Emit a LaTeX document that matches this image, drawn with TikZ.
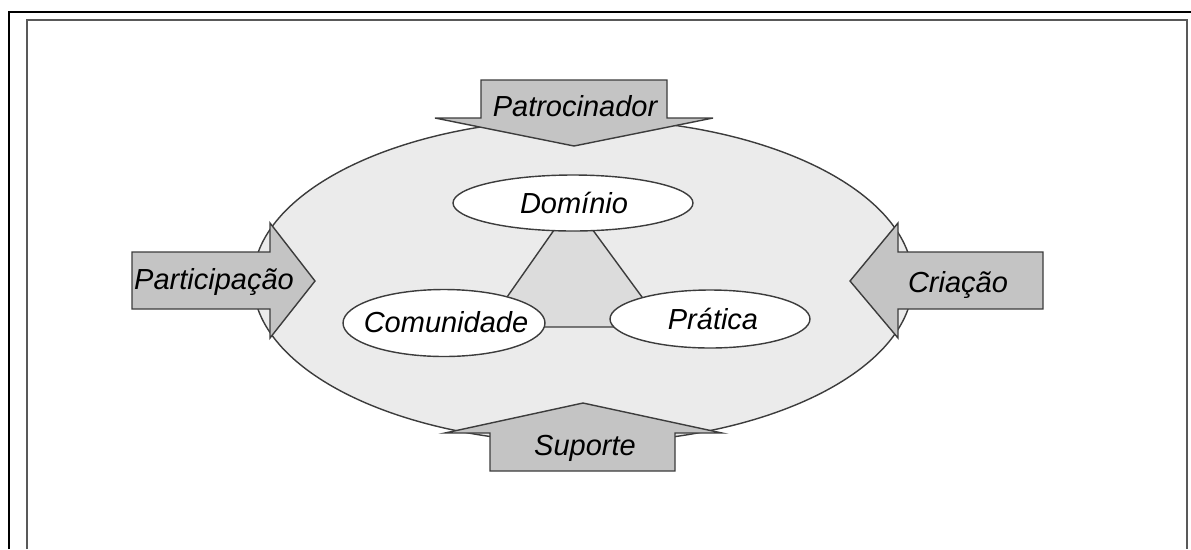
\documentclass[tikz,border=0pt]{standalone}
\usepackage{fontspec}
\setmainfont{Liberation Sans}
\usetikzlibrary{shapes.geometric}
\definecolor{fundo}{HTML}{EBEBEB}
\definecolor{miolo}{HTML}{DCDCDC}
\definecolor{setacor}{HTML}{C4C4C4}
\definecolor{linha}{HTML}{3C3C3C}
\begin{document}
\begin{tikzpicture}[x=0.02cm,y=-0.02cm,
    seta/.style={fill=setacor,draw=linha,line width=0.8pt,line join=miter},
    elipse/.style={ellipse,draw=linha,fill=white,line width=0.8pt,inner sep=0pt},
    rotulo/.style={font=\fontsize{16.5}{20}\selectfont\itshape,inner sep=0pt,text height=11.8pt,text depth=0pt}]
  \useasboundingbox (0,0) rectangle (1191,549);
  % molduras
  \draw[line width=1.4pt] (9,549) -- (9,12) -- (1191,12);
  \draw[linha!85,line width=1.1pt] (27,549) -- (27,20) -- (1187,20) -- (1187,549);
  % elipse grande
  \draw[fill=fundo,draw=linha,line width=0.8pt] (583,281) ellipse [x radius=330,y radius=162];
  % setas
  \draw[seta] (481,80) -- (667,80) -- (667,118) -- (713,118) -- (574,146) -- (435,118) -- (481,118) -- cycle;
  \draw[seta] (490,471) -- (675,471) -- (675,433) -- (722,433) -- (583,403) -- (445,433) -- (490,433) -- cycle;
  \draw[seta] (132,252) -- (270,252) -- (270,223) -- (315,281) -- (270,338) -- (270,309) -- (132,309) -- cycle;
  \draw[seta] (1043,252) -- (898,252) -- (898,223) -- (850,281) -- (898,338) -- (898,309) -- (1043,309) -- cycle;
  \node[rotulo] (pat) at (575,106) {Patrocinador};
  \node[rotulo] (sup) at (585,445) {Suporte};
  \node[rotulo] (par) at (214,279) {Participação};
  \node[rotulo] (cri) at (958,282) {Criação};
  % triangulo
  \coordinate (tdom) at (573,203);
  \coordinate (tcom) at (486,327);
  \coordinate (tpra) at (664,327);
  \draw[fill=miolo,draw=linha,line width=0.8pt] (tdom) -- (tcom) -- (tpra) -- cycle;
  \node[elipse,minimum width=4.8cm,minimum height=1.12cm] (dom) at (573,203) {};
  \node[elipse,minimum width=4.04cm,minimum height=1.34cm] (com) at (444,323) {};
  \node[elipse,minimum width=4cm,minimum height=1.16cm] (pra) at (710,319) {};
  \node[rotulo] (tdomtxt) at (574,203) {Domínio};
  \node[rotulo] (tcomtxt) at (446,322) {Comunidade};
  \node[rotulo] (tpratxt) at (713,319) {Prática};
\end{tikzpicture}
\end{document}
